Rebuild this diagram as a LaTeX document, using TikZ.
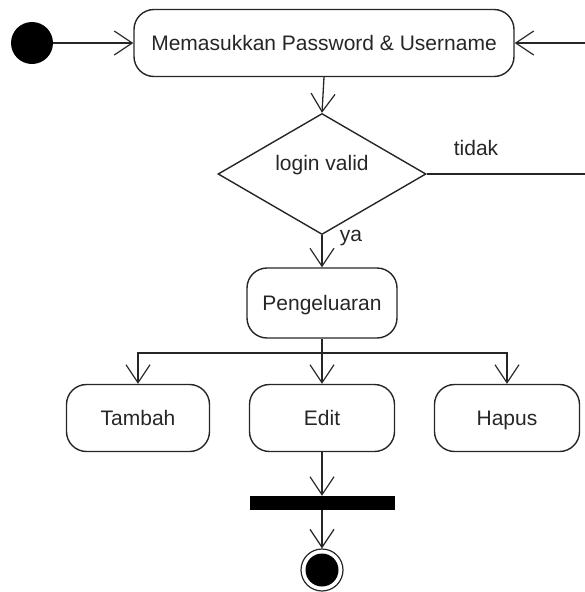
\documentclass[tikz,border=0pt]{standalone}
\usepackage{fontspec}
\setmainfont{Liberation Sans}
\usetikzlibrary{arrows.meta,shapes.geometric}
\begin{document}
\begin{tikzpicture}[x=1pt,y=-1pt,
  txt/.style={font=\fontsize{21}{24}\selectfont, text=black!85},
  act/.style={txt, draw=black!85, line width=1.4pt, rounded corners=20pt,
    inner sep=0pt, minimum height=67pt, text height=19pt, text depth=4pt},
  flow/.style={draw=black!85, line width=1.3pt,
    -{Straight Barb[length=18pt,width=24pt,line width=1.2pt]}},
  plain/.style={draw=black!85, line width=1.3pt}]
\useasboundingbox (0,0) rectangle (584,592);

% initial state
\node[circle, fill=black, minimum size=42pt, inner sep=0pt] (start) at (32,43) {};

% actions
\node[act, minimum width=380pt] (login) at (324,43) {Memasukkan Password \& Username};
\node[diamond, draw=black!85, line width=1.4pt, minimum width=208pt, minimum height=121pt,
  aspect=1.72, inner sep=0pt,
  label={[txt, yshift=9pt]center:login valid}] (dec) at (322,174) {};
\node[act, minimum width=150pt, minimum height=70pt] (peng) at (322,303) {Pengeluaran};
\node[act, minimum width=143pt] (tambah) at (138,418) {Tambah};
\node[act, minimum width=145pt] (edit) at (322,418) {Edit};
\node[act, minimum width=145pt] (hapus) at (507,418) {Hapus};

% join bar and final state
\node[rectangle, fill=black, minimum width=145pt, minimum height=14pt, inner sep=0pt] (bar) at (322,503) {};
\node[circle, draw=black!85, line width=1.2pt, minimum size=42pt, inner sep=0pt] (end) at (322,570) {};
\fill (end.center) circle (16.5);

% guard labels
\node[txt] (tidak) at (476,148) {tidak};
\node[txt] (ya) at (351,238) {ya};

% transitions
\draw[flow] (start) -- (login);
\draw[flow] (login.south) -- (dec.north);
\draw[flow] (dec.east) -- ++(170,0) |- (login.east);
\draw[flow] (dec.south) -- (peng.north);
\coordinate (split) at (322,353);
\draw[plain] (peng.south) -- (split);
\draw[flow] (split) -| (tambah.north);
\draw[flow] (split) -- (edit.north);
\draw[flow] (split) -| (hapus.north);
\draw[flow] (edit.south) -- (bar.north);
\draw[flow] (bar.south) -- (end.north);
\end{tikzpicture}
\end{document}
